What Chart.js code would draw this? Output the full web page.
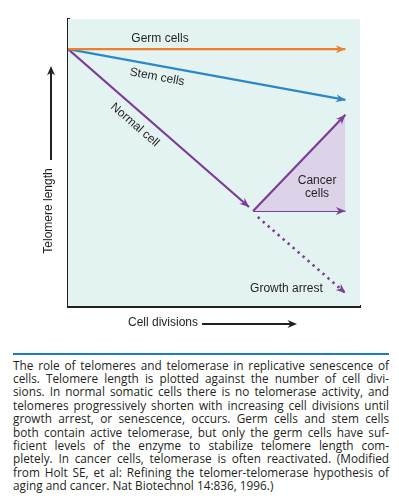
<!DOCTYPE html>
<html>
<head>
<meta charset="utf-8">
<script src="https://cdn.jsdelivr.net/npm/chart.js@4.4.1/dist/chart.umd.min.js"></script>
<style>
  html, body { margin: 0; padding: 0; background: #ffffff; }
  body { width: 399px; height: 504px; position: relative; overflow: hidden; }
  #wrap { position: absolute; left: 0; top: 0; width: 399px; height: 340px; }
  #rule { position: absolute; left: 13px; top: 352.5px; width: 376px; height: 2.5px; background: #1b7cc1; }
  #caption { position: absolute; left: 13px; top: 358.5px; width: 376px; font-family: "Open Sans", sans-serif; font-size: 11.8px; line-height: 13.4px; color: #231f20; }
  #caption div { white-space: nowrap; text-align: justify; text-align-last: justify; }
  #caption div.last { text-align-last: left; }
</style>
</head>
<body>
<div id="wrap"><canvas id="c" width="399" height="340"></canvas></div>
<div id="rule"></div>
<div id="caption">
  <div>The role of telomeres and telomerase in replicative senescence of</div>
  <div>cells. Telomere length is plotted against the number of cell divi-</div>
  <div>sions. In normal somatic cells there is no telomerase activity, and</div>
  <div>telomeres progressively shorten with increasing cell divisions until</div>
  <div>growth arrest, or senescence, occurs. Germ cells and stem cells</div>
  <div>both contain active telomerase, but only the germ cells have suf-</div>
  <div>ficient levels of the enzyme to stabilize telomere length com-</div>
  <div>pletely. In cancer cells, telomerase is often reactivated. (Modified</div>
  <div>from Holt SE, et al: Refining the telomer-telomerase hypothesis of</div>
  <div class="last">aging and cancer. Nat Biotechnol 14:836, 1996.)</div>
</div>
<script>
// ---- Data (schematic values, axis 0..100) ----
const germX = [0, 95];
const germY = [89.5, 89.5];
const stemX = [0, 95];
const stemY = [89.5, 71.8];
const normalX = [0, 62];
const normalY = [89.5, 34.5];
const cancerX = [63.4, 95];
const cancerRiseY = [33.1, 66.6];
const cancerFlatY = [33.1, 33.1];
const arrestX = [65, 95];
const arrestY = [31, 4.5];

const xAxisTitle = 'Cell divisions';
const yAxisTitle = 'Telomere length';
const seriesLabels = ['Germ cells', 'Stem cells', 'Normal cell', 'Cancer cells', 'Cancer cells', 'Growth arrest'];

const ORANGE = '#f07e2c';
const BLUE = '#2b87c8';
const PURPLE = '#7b3d98';
const LILAC = '#ddd3e8';
const BG = '#e3f3f2';
const INK = '#231f20';

function pts(xs, ys) { return xs.map((x, i) => ({ x: x, y: ys[i] })); }

const datasets = [
  { label: seriesLabels[0], data: pts(germX, germY), borderColor: ORANGE, borderWidth: 2.2, arrow: true, color: ORANGE },
  { label: seriesLabels[1], data: pts(stemX, stemY), borderColor: BLUE, borderWidth: 2.2, arrow: true, color: BLUE },
  { label: seriesLabels[2], data: pts(normalX, normalY), borderColor: PURPLE, borderWidth: 2.2, arrow: true, color: PURPLE },
  { label: seriesLabels[3], data: pts(cancerX, cancerRiseY), borderColor: PURPLE, borderWidth: 2.2, arrow: true, color: PURPLE,
    fill: { value: cancerFlatY[0] }, backgroundColor: LILAC },
  { label: seriesLabels[4], data: pts(cancerX, cancerFlatY), borderColor: PURPLE, borderWidth: 2.2, arrow: true, color: PURPLE },
  { label: seriesLabels[5], data: pts(arrestX, arrestY), borderColor: PURPLE, borderWidth: 2.6, borderDash: [2.4, 4.2], arrow: true, color: PURPLE }
];
datasets.forEach(d => { d.pointRadius = 0; d.pointHoverRadius = 0; d.tension = 0; if (d.fill === undefined) d.fill = false; });

function arrowHead(ctx, x1, y1, x2, y2, color) {
  const a = Math.atan2(y2 - y1, x2 - x1);
  const L = 9.5, W = 4, N = 6.5;
  ctx.save();
  ctx.translate(x2, y2);
  ctx.rotate(a);
  ctx.fillStyle = color;
  ctx.beginPath();
  ctx.moveTo(0, 0);
  ctx.lineTo(-L, -W);
  ctx.lineTo(-N, 0);
  ctx.lineTo(-L, W);
  ctx.closePath();
  ctx.fill();
  ctx.restore();
}

const decor = {
  id: 'decor',
  beforeDatasetsDraw(chart) {
    const { ctx, chartArea: a } = chart;
    ctx.save();
    ctx.fillStyle = BG;
    ctx.fillRect(a.left, a.top, a.right - a.left, a.bottom - a.top);
    ctx.restore();
  },
  afterDatasetsDraw(chart) {
    const { ctx } = chart;
    const xs = chart.scales.x, ys = chart.scales.y;
    const px = v => xs.getPixelForValue(v);
    const py = v => ys.getPixelForValue(v);
    chart.data.datasets.forEach(d => {
      if (!d.arrow) return;
      const n = d.data.length;
      const p1 = d.data[n - 2], p2 = d.data[n - 1];
      arrowHead(ctx, px(p1.x), py(p1.y), px(p2.x), py(p2.y), d.color);
    });

    ctx.save();
    ctx.fillStyle = INK;
    ctx.font = '12px "Liberation Sans", Arial, sans-serif';
    ctx.textAlign = 'center';
    ctx.textBaseline = 'middle';
    ctx.fillText(seriesLabels[0], px(31.5), py(93.3));
    const angStem = Math.atan2(py(stemY[1]) - py(stemY[0]), px(stemX[1]) - px(stemX[0]));
    ctx.save(); ctx.translate(px(30.5), py(79.8)); ctx.rotate(angStem); ctx.fillText(seriesLabels[1], 0, 0); ctx.restore();
    const angNorm = Math.atan2(py(normalY[1]) - py(normalY[0]), px(normalX[1]) - px(normalX[0]));
    ctx.save(); ctx.translate(px(22.9), py(63.1)); ctx.rotate(angNorm); ctx.fillText(seriesLabels[2], 0, 0); ctx.restore();
    ctx.fillText('Cancer', px(85.3), py(43.6));
    ctx.fillText('cells', px(85.3), py(39.1));
    ctx.fillText(seriesLabels[5], px(74.8), py(6.1));

    ctx.save();
    ctx.translate(48.5, 211);
    ctx.rotate(-Math.PI / 2);
    ctx.fillText(yAxisTitle, 0, 0);
    ctx.restore();
    ctx.fillText(xAxisTitle, 163, 323);

    ctx.strokeStyle = INK;
    ctx.fillStyle = INK;
    ctx.lineWidth = 2;
    ctx.beginPath(); ctx.moveTo(51, 160); ctx.lineTo(51, 72); ctx.stroke();
    arrowHead(ctx, 51, 160, 51, 66, INK);
    ctx.beginPath(); ctx.moveTo(202, 324); ctx.lineTo(291, 324); ctx.stroke();
    arrowHead(ctx, 202, 324, 297, 324, INK);
    ctx.restore();
  }
};

new Chart(document.getElementById('c'), {
  type: 'line',
  data: { datasets: datasets },
  options: {
    responsive: false,
    animation: false,
    events: [],
    layout: { padding: { left: 68, top: 19, right: 39, bottom: 34 } },
    plugins: { legend: { display: false }, tooltip: { enabled: false }, title: { display: false } },
    scales: {
      x: { type: 'linear', min: 0, max: 100, position: 'bottom',
           ticks: { display: false }, grid: { display: false, drawTicks: false },
           border: { display: true, width: 3, color: INK } },
      y: { type: 'linear', min: 0, max: 100, position: 'left',
           ticks: { display: false }, grid: { display: false, drawTicks: false },
           border: { display: true, width: 3, color: INK } }
    }
  },
  plugins: [decor]
});
</script>
</body>
</html>
